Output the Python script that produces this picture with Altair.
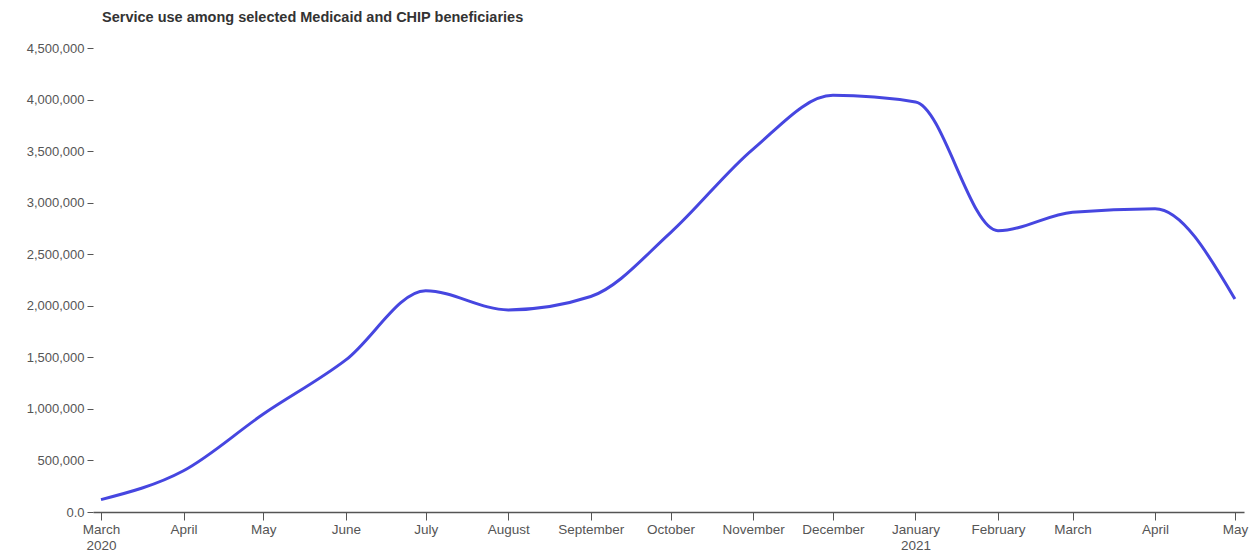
import altair as alt
import pandas as pd

months = ["2020-03-01", "2020-04-01", "2020-05-01", "2020-06-01", "2020-07-01",
          "2020-08-01", "2020-09-01", "2020-10-01", "2020-11-01", "2020-12-01",
          "2021-01-01", "2021-02-01", "2021-03-01", "2021-04-01", "2021-05-01"]
service_use = [120000, 400000, 950000, 1475000, 2146000,
               1960000, 2090000, 2710000, 3520000, 4041000,
               3976000, 2728000, 2907000, 2942000, 2066000]
y_ticks = [0, 500000, 1000000, 1500000, 2000000, 2500000,
           3000000, 3500000, 4000000, 4500000]
x_domain = ["2020-02-27T00:00:00Z", "2021-05-04T10:00:00Z"]
title_text = "Service use among selected Medicaid and CHIP beneficiaries"

df = pd.DataFrame({"month": months, "value": service_use})

FONT = "Liberation Sans"

x_label_expr = (
    "(utcmonth(datum.value)==2 && utcyear(datum.value)==2020) || utcmonth(datum.value)==0"
    " ? [utcFormat(datum.value,'%B'), utcFormat(datum.value,'%Y')]"
    " : utcFormat(datum.value,'%B')"
)

chart = alt.Chart(df).mark_line(
    interpolate="monotone", color="#4646e0", strokeWidth=3
).encode(
    x=alt.X("month:T",
            scale=alt.Scale(type="utc", nice=False, domain=x_domain),
            axis=alt.Axis(title=None, grid=False, tickCount={"interval": "month", "step": 1},
                          labelExpr=x_label_expr, labelFlush=False, labelOverlap=False,
                          labelFont=FONT, labelFontSize=13.5, labelColor="#555555",
                          labelLineHeight=16, labelPadding=2,
                          tickSize=8, tickColor="#555555", domainColor="#555555",
                          domainWidth=1.5)),
    y=alt.Y("value:Q",
            scale=alt.Scale(domain=[0, 4500000], nice=False),
            axis=alt.Axis(title=None, grid=False, domain=False, values=y_ticks,
                          labelExpr="datum.value == 0 ? '0.0' : format(datum.value, ',')",
                          labelFont=FONT, labelFontSize=13, labelColor="#555555",
                          labelPadding=3, tickSize=6, tickColor="#555555")),
).properties(
    width=1151,
    height=464,
    title=alt.TitleParams(title_text, anchor="start", frame="group", font=FONT,
                          fontSize=14.5, fontWeight="bold", color="#333333",
                          offset=17, dx=9),
    autosize=alt.AutoSizeParams(type="none"),
    padding={"left": 85, "top": 40, "right": 8, "bottom": 40},
).configure_view(stroke=None)

chart.save("out.html", embed_options={"renderer": "svg", "actions": False})
